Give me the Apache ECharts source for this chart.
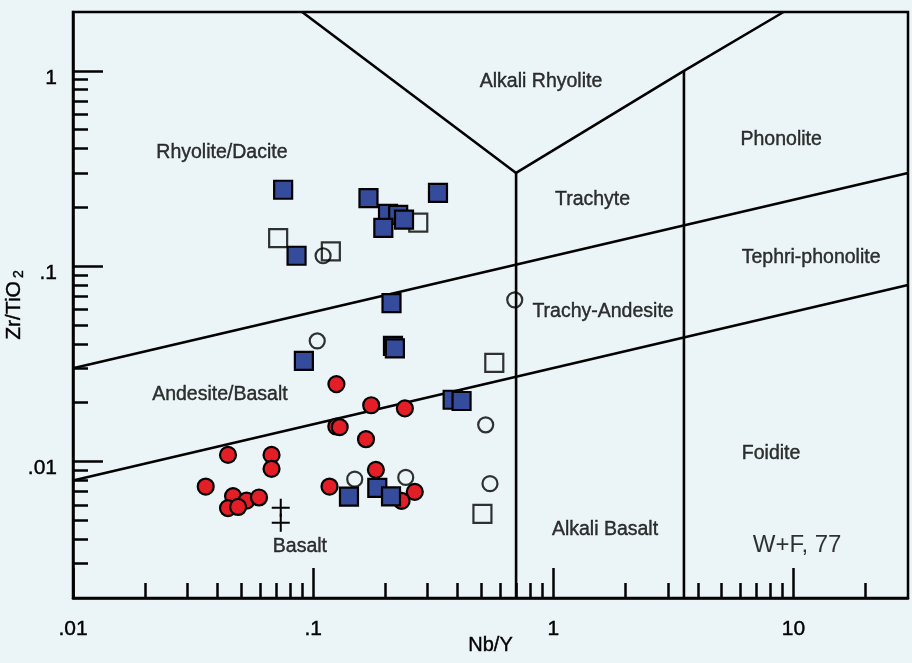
<!DOCTYPE html>
<html>
<head>
<meta charset="utf-8">
<title>Zr/TiO2 vs Nb/Y</title>
<script src="https://cdn.jsdelivr.net/npm/echarts@6/dist/echarts.min.js"></script>
<style>
  html, body { margin: 0; padding: 0; background: #EBF4F6; }
  #chart { width: 912px; height: 663px; }
</style>
</head>
<body>
<div id="chart"></div>
<script>
// Axis ranges and ticks (log scales)
const xRange = [0.01, 30];
const yRange = [0.002, 2];
const xMajorTicks = [0.01, 0.1, 1, 10];
const xMajorLabels = ['.01', '.1', '1', '10'];
const xMinorTicks = [0.02, 0.03, 0.04, 0.05, 0.06, 0.07, 0.08, 0.09,
                     0.2, 0.3, 0.4, 0.5, 0.6, 0.7, 0.8, 0.9,
                     2, 3, 4, 5, 6, 7, 8, 9, 20];
const yMajorTicks = [0.01, 0.1, 1];
const yMajorLabels = ['.01', '.1', '1'];
const yMinorTicks = [0.003, 0.004, 0.005, 0.006, 0.007, 0.008, 0.009,
                     0.02, 0.03, 0.04, 0.05, 0.06, 0.07, 0.08, 0.09,
                     0.2, 0.3, 0.4, 0.5, 0.6, 0.7, 0.8, 0.9];

// Field boundaries of the classification diagram, [Nb/Y, Zr/TiO2]
const fieldBoundaries = [
  [[0.09, 2], [0.70, 0.30], [3.5, 1.0], [9.1, 2]],
  [[0.70, 0.30], [0.70, 0.002]],
  [[3.5, 1.0], [3.5, 0.002]],
  [[0.01, 0.030], [30, 0.30]],
  [[0.01, 0.0080], [30, 0.080]]
];

// Field names and where they sit, [name, Nb/Y, Zr/TiO2]
const fieldNames = [
  ['Alkali Rhyolite', 0.889, 0.878],
  ['Rhyolite/Dacite', 0.0417, 0.380],
  ['Trachyte', 1.457, 0.219],
  ['Phonolite', 8.89, 0.443],
  ['Tephri-phonolite', 11.85, 0.110],
  ['Trachy-Andesite', 1.611, 0.0585],
  ['Andesite/Basalt', 0.0409, 0.0219],
  ['Foidite', 8.07, 0.0110],
  ['Alkali Basalt', 1.642, 0.00447],
  ['Basalt', 0.0881, 0.00365]
];
const sourceNote = ['W+F, 77', 10.36, 0.00374];

// Samples, [Nb/Y, Zr/TiO2]
const blueSquares = [
  [0.075, 0.246], [0.170, 0.223], [0.331, 0.237], [0.205, 0.185],
  [0.226, 0.183], [0.239, 0.173], [0.196, 0.157], [0.0853, 0.113],
  [0.212, 0.0646], [0.215, 0.0391], [0.219, 0.0379], [0.0915, 0.0327],
  [0.381, 0.0207], [0.415, 0.0204], [0.141, 0.00661], [0.185, 0.00732],
  [0.211, 0.00663]
];
const openSquares = [
  [0.274, 0.167], [0.0715, 0.139], [0.1185, 0.119], [0.568, 0.0320],
  [0.507, 0.00539]
];
const openCircles = [
  [0.110, 0.113], [0.104, 0.0414], [0.691, 0.0672], [0.523, 0.0154],
  [0.545, 0.0077], [0.149, 0.00812], [0.243, 0.00829]
];
const redCircles = [
  [0.125, 0.0249], [0.1745, 0.0194], [0.241, 0.0187], [0.1249, 0.0151],
  [0.129, 0.0150], [0.166, 0.0130], [0.0442, 0.0108], [0.0671, 0.0108],
  [0.0671, 0.00917], [0.0357, 0.00744], [0.0464, 0.00665], [0.0528, 0.0063],
  [0.0595, 0.00654], [0.0442, 0.00577], [0.0487, 0.00585], [0.117, 0.00744],
  [0.1825, 0.00906], [0.2335, 0.00628], [0.265, 0.00699]
];
const crosses = [
  [0.0733, 0.00579], [0.0733, 0.00485]
];

const ink = '#000';
const face = "'Liberation Sans', Arial, sans-serif";
// a hairline outline darkens the thin glyphs a little
const inkText = { color: ink, textBorderColor: ink, textBorderWidth: 0.4 };

function labelFor(ticks, labels) {
  return function (v) {
    const i = ticks.findIndex(t => Math.abs(Math.log10(t) - Math.log10(v)) < 1e-6);
    return i >= 0 ? labels[i] : '';
  };
}

const chart = echarts.init(document.getElementById('chart'), null, { renderer: 'canvas' });

const lineSeries = fieldBoundaries.map(seg => ({
  type: 'line',
  data: seg,
  symbol: 'none',
  silent: true,
  z: 2,
  lineStyle: { color: ink, width: 2.6 }
}));

const option = {
  backgroundColor: '#EBF4F6',
  animation: false,
  grid: {
    left: 73, right: 4, top: 12, bottom: 65,
    show: true, borderColor: ink, borderWidth: 2.5,
    backgroundColor: 'transparent',
    outerBoundsMode: 'none'
  },
  xAxis: [
    {
      type: 'log', logBase: 10, min: xRange[0], max: xRange[1],
      position: 'bottom',
      name: 'Nb/Y', nameLocation: 'middle', nameGap: 37, nameMoveOverlap: false,
      nameTextStyle: { fontFamily: face, fontSize: 20, ...inkText },
      axisLine: { show: true, lineStyle: { color: ink, width: 2.5 } },
      axisTick: { show: true, inside: true, length: 30, customValues: xMajorTicks,
                  lineStyle: { color: ink, width: 2.5 } },
      axisLabel: { show: true, customValues: xMajorTicks, margin: 21,
                   formatter: labelFor(xMajorTicks, xMajorLabels),
                   fontFamily: face, fontSize: 21, ...inkText },
      splitLine: { show: false }
    },
    {
      type: 'log', logBase: 10, min: xRange[0], max: xRange[1],
      position: 'bottom',
      axisLine: { show: false },
      axisTick: { show: true, inside: true, length: 15, customValues: xMinorTicks,
                  lineStyle: { color: ink, width: 2.5 } },
      axisLabel: { show: false, customValues: xMinorTicks },
      splitLine: { show: false }
    }
  ],
  yAxis: [
    {
      type: 'log', logBase: 10, min: yRange[0], max: yRange[1],
      position: 'left',
      name: '{t|Zr/TiO}{s|2}', nameLocation: 'middle', nameGap: 47, nameRotate: 90,
      nameMoveOverlap: false,
      nameTextStyle: {
        color: ink,
        rich: {
          t: { fontFamily: face, fontSize: 21, lineHeight: 24, ...inkText },
          s: { fontFamily: face, fontSize: 14, verticalAlign: 'bottom',
               lineHeight: 24, padding: [0, 0, 0, 3], ...inkText }
        }
      },
      axisLine: { show: true, lineStyle: { color: ink, width: 2.5 } },
      axisTick: { show: true, inside: true, length: 30, customValues: yMajorTicks,
                  lineStyle: { color: ink, width: 2.5 } },
      axisLabel: { show: true, customValues: yMajorTicks, margin: 16,
                   verticalAlign: 'top', lineHeight: 14,
                   formatter: labelFor(yMajorTicks, yMajorLabels),
                   fontFamily: face, fontSize: 21, ...inkText },
      splitLine: { show: false }
    },
    {
      type: 'log', logBase: 10, min: yRange[0], max: yRange[1],
      position: 'left',
      axisLine: { show: false },
      axisTick: { show: true, inside: true, length: 15, customValues: yMinorTicks,
                  lineStyle: { color: ink, width: 2.5 } },
      axisLabel: { show: false, customValues: yMinorTicks },
      splitLine: { show: false }
    }
  ],
  series: [
    ...lineSeries,
    {
      type: 'scatter',
      data: fieldNames.map(f => ({ name: f[0], value: [f[1], f[2]] })),
      symbolSize: 0,
      silent: true,
      z: 3,
      label: { show: true, position: 'inside', formatter: '{b}',
               fontFamily: face, fontSize: 19.5, ...inkText }
    },
    {
      type: 'scatter',
      data: [{ name: sourceNote[0], value: [sourceNote[1], sourceNote[2]] }],
      symbolSize: 0,
      silent: true,
      z: 3,
      label: { show: true, position: 'inside', formatter: '{b}',
               fontFamily: face, fontSize: 24, color: ink }
    },
    {
      type: 'scatter', data: openSquares, symbol: 'rect', symbolSize: 18, z: 4,
      itemStyle: { color: 'transparent', borderColor: ink, borderWidth: 2.2 }
    },
    {
      type: 'scatter', data: openCircles, symbol: 'circle', symbolSize: 15, z: 4,
      itemStyle: { color: 'transparent', borderColor: ink, borderWidth: 2.2 }
    },
    {
      type: 'scatter', data: redCircles, symbol: 'circle', symbolSize: 16, z: 5,
      itemStyle: { color: '#E31E26', borderColor: ink, borderWidth: 2.2, opacity: 1 }
    },
    {
      type: 'scatter', data: blueSquares, symbol: 'rect', symbolSize: 18, z: 6,
      itemStyle: { color: '#354B9C', borderColor: ink, borderWidth: 2.2, opacity: 1 }
    },
    {
      type: 'scatter', data: crosses, z: 6,
      symbol: 'path://M8,0H10V8H18V10H10V18H8V10H0V8H8Z', symbolSize: 18,
      itemStyle: { color: ink, opacity: 1 }
    }
  ]
};

chart.setOption(option);
</script>
</body>
</html>
